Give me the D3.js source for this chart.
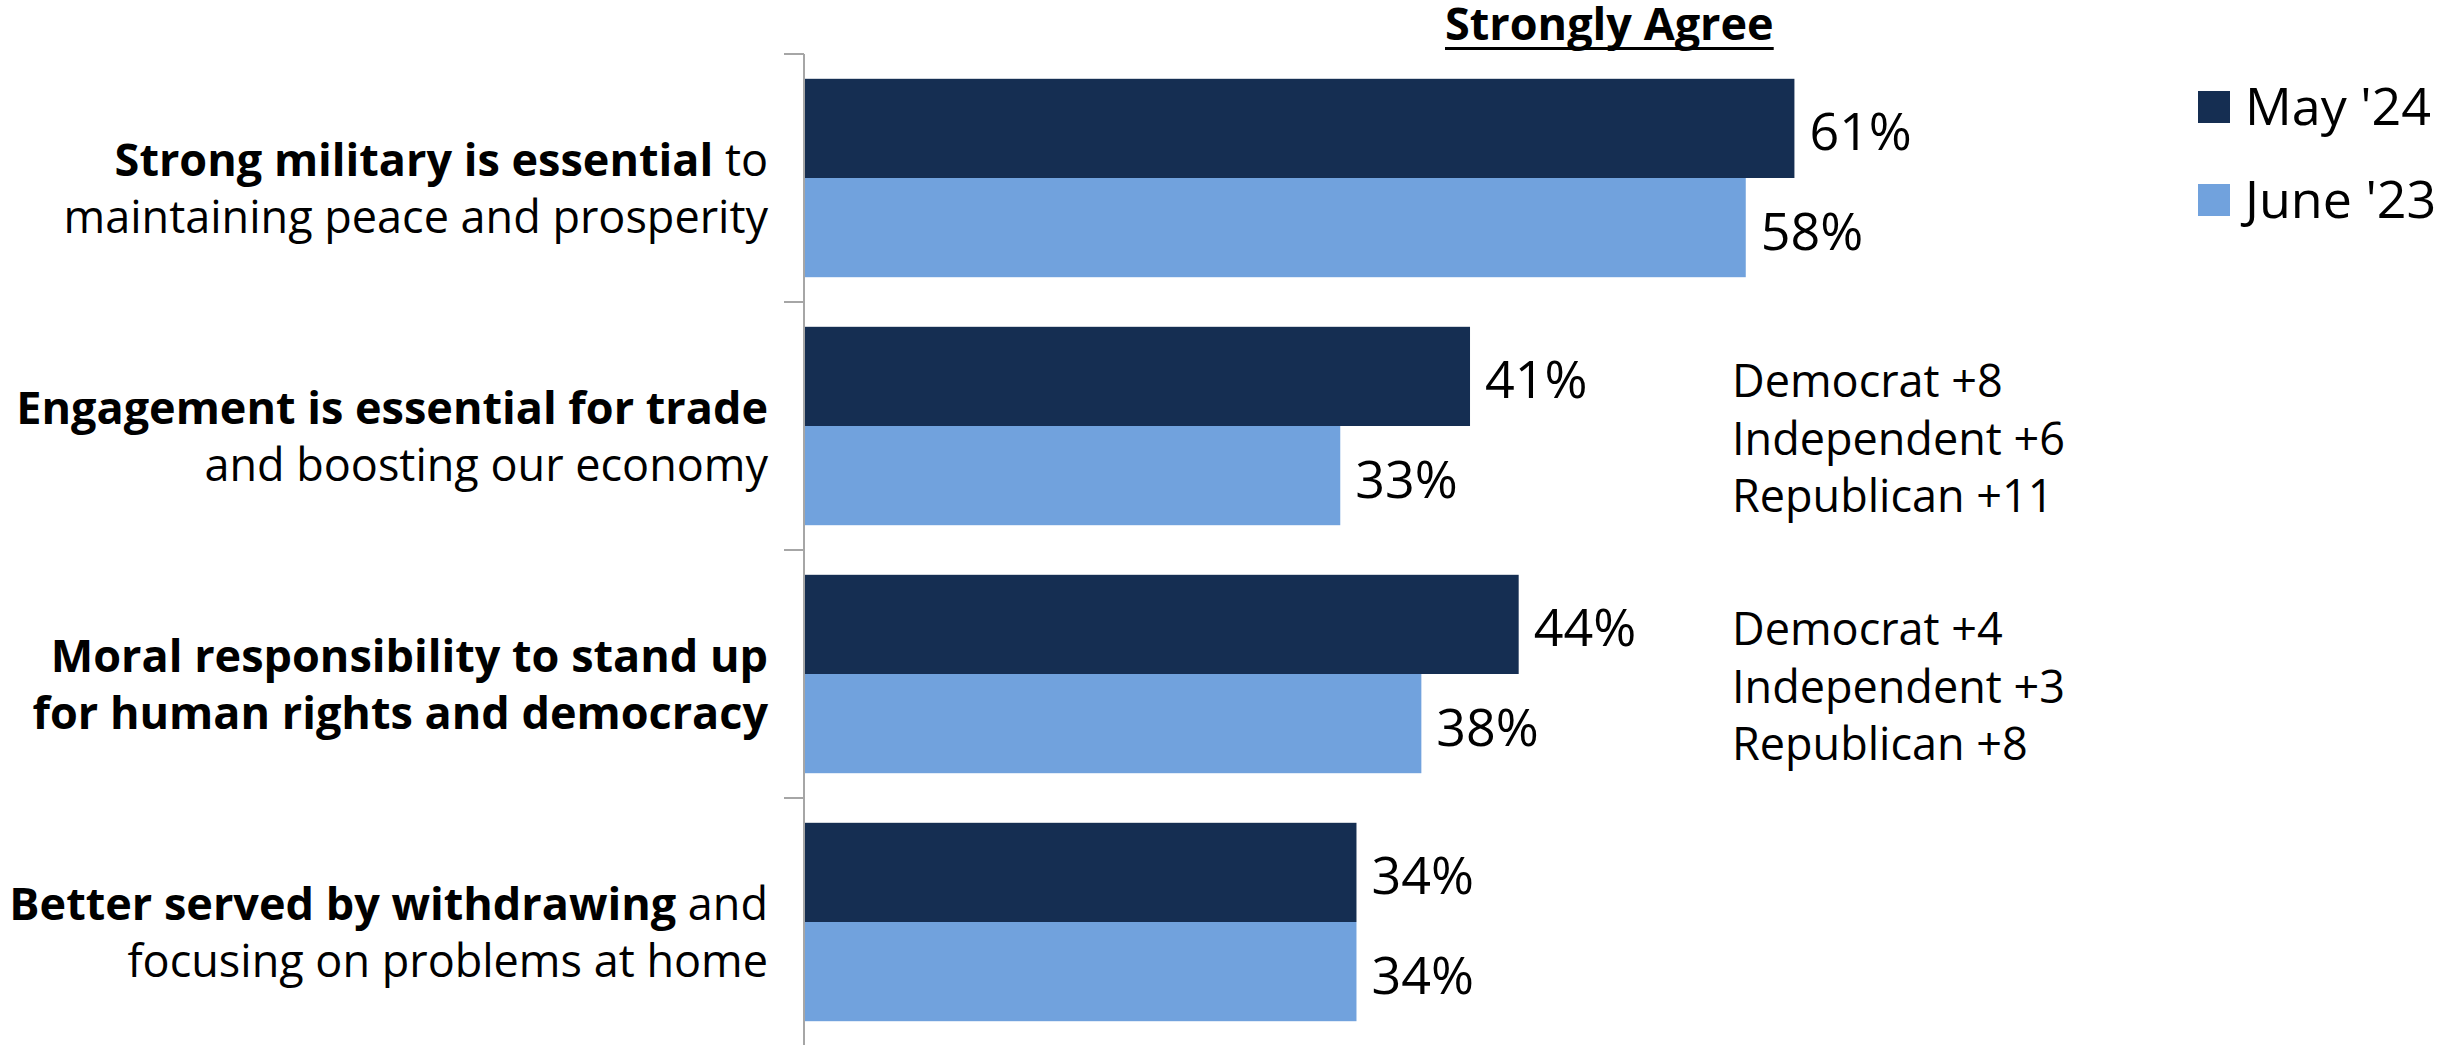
<!DOCTYPE html>
<html>
<head>
<meta charset="utf-8">
<script src="https://cdn.jsdelivr.net/npm/d3@7"></script>
<style>
  html, body { margin: 0; padding: 0; background: #ffffff; }
  svg { display: block; }
  text { font-family: "Open Sans", "Noto Sans", "DejaVu Sans", sans-serif; fill: #000; }
</style>
</head>
<body>
<svg id="chart" width="2463" height="1045"></svg>
<script>
// Survey statements (one row each)
const categories = [
  "Strong military is essential to maintaining peace and prosperity",
  "Engagement is essential for trade and boosting our economy",
  "Moral responsibility to stand up for human rights and democracy",
  "Better served by withdrawing and focusing on problems at home"
];

// Row labels split into lines; each piece is [text, isBold]
const categoryLines = [
  [[["Strong military is essential", true], [" to", false]],
   [["maintaining peace and prosperity", false]]],
  [[["Engagement is essential for trade", true]],
   [["and boosting our economy", false]]],
  [[["Moral responsibility to stand up", true]],
   [["for human rights and democracy", true]]],
  [[["Better served by withdrawing", true], [" and", false]],
   [["focusing on problems at home", false]]]
];

// "Strongly agree" share, in percent
const seriesNames = ["May '24", "June '23"];
const may24 = [61, 41, 44, 34];
const june23 = [58, 33, 38, 34];

// Change since June '23 by party (shown beside two of the rows)
const partyShifts = [
  [],
  ["Democrat +8", "Independent +6", "Republican +11"],
  ["Democrat +4", "Independent +3", "Republican +8"],
  []
];

const chartTitle = "Strongly Agree";

const colors = ["#152e52", "#71a2dd"];

const svg = d3.select("#chart");
svg.append("rect").attr("width", 2463).attr("height", 1045).attr("fill", "#ffffff");

const x = d3.scaleLinear().domain([0, 100]).range([805, 2427]);
const y = d3.scaleBand().domain(categories).range([54, 1046])
  .paddingInner(0.2).paddingOuter(0.1);
const ySub = d3.scaleBand().domain(seriesNames).range([0, y.bandwidth()]).padding(0);

const rows = categories.map((c, i) => ({
  category: c,
  lines: categoryLines[i],
  shifts: partyShifts[i],
  values: [
    { series: seriesNames[0], value: may24[i] },
    { series: seriesNames[1], value: june23[i] }
  ]
}));

// Category axis: vertical line plus ticks at the row boundaries
const step = y.step();
const boundaries = d3.range(categories.length + 1).map(i => 54 + i * step);
const axis = svg.append("g").attr("class", "axis");
axis.append("line")
  .attr("x1", 804).attr("x2", 804)
  .attr("y1", 54).attr("y2", 1046)
  .attr("stroke", "#a6a6a6").attr("stroke-width", 2);
axis.selectAll("line.tick").data(boundaries).join("line")
  .attr("class", "tick")
  .attr("x1", 784).attr("x2", 804)
  .attr("y1", d => d).attr("y2", d => d)
  .attr("stroke", "#a6a6a6").attr("stroke-width", 2);

// Bars
const groups = svg.append("g").selectAll("g.row").data(rows).join("g")
  .attr("class", "row")
  .attr("transform", d => `translate(0,${y(d.category)})`);

groups.selectAll("rect").data(d => d.values).join("rect")
  .attr("x", x(0))
  .attr("y", d => ySub(d.series))
  .attr("width", d => x(d.value) - x(0))
  .attr("height", ySub.bandwidth())
  .attr("fill", d => colors[seriesNames.indexOf(d.series)]);

// Value labels
groups.selectAll("text.value").data(d => d.values).join("text")
  .attr("class", "value")
  .attr("x", d => x(d.value) + 15)
  .attr("y", d => ySub(d.series) + ySub.bandwidth() / 2 + 22)
  .attr("font-size", 52)
  .text(d => d.value + "%");

// Row labels (mixed bold / regular, right aligned)
const labelGroups = svg.append("g").selectAll("g.label").data(rows).join("g")
  .attr("class", "label")
  .attr("transform", d => `translate(768,${y(d.category) + y.bandwidth() / 2})`);

labelGroups.each(function(d) {
  const g = d3.select(this);
  d.lines.forEach((pieces, li) => {
    const t = g.append("text")
      .attr("x", 0)
      .attr("y", -2 + li * 57)
      .attr("text-anchor", "end")
      .attr("font-size", 45);
    pieces.forEach(([txt, bold]) => {
      t.append("tspan")
        .attr("font-weight", bold ? 700 : 400)
        .text(txt);
    });
  });
});

// Party shift notes
labelGroups.each(function(d) {
  const cy = y(d.category) + y.bandwidth() / 2;
  svg.append("g").selectAll("text").data(d.shifts).join("text")
    .attr("x", 1732)
    .attr("y", (s, i) => cy - 29 + i * 57.5)
    .attr("font-size", 45)
    .text(s => s);
});

// Title with underline
const title = svg.append("text")
  .attr("x", 1445).attr("y", 40)
  .attr("font-size", 45).attr("font-weight", 700)
  .text(chartTitle);
const tw = title.node().getComputedTextLength();
svg.append("line")
  .attr("x1", 1445).attr("x2", 1445 + tw)
  .attr("y1", 48.5).attr("y2", 48.5)
  .attr("stroke", "#000").attr("stroke-width", 3);

// Legend
const legend = svg.append("g").selectAll("g").data(seriesNames).join("g")
  .attr("transform", (d, i) => `translate(2198,${91 + i * 93})`);
legend.append("rect")
  .attr("width", 32).attr("height", 32)
  .attr("fill", (d, i) => colors[i]);
legend.append("text")
  .attr("x", 47).attr("y", 34)
  .attr("font-size", 52)
  .text(d => d);
</script>
</body>
</html>
